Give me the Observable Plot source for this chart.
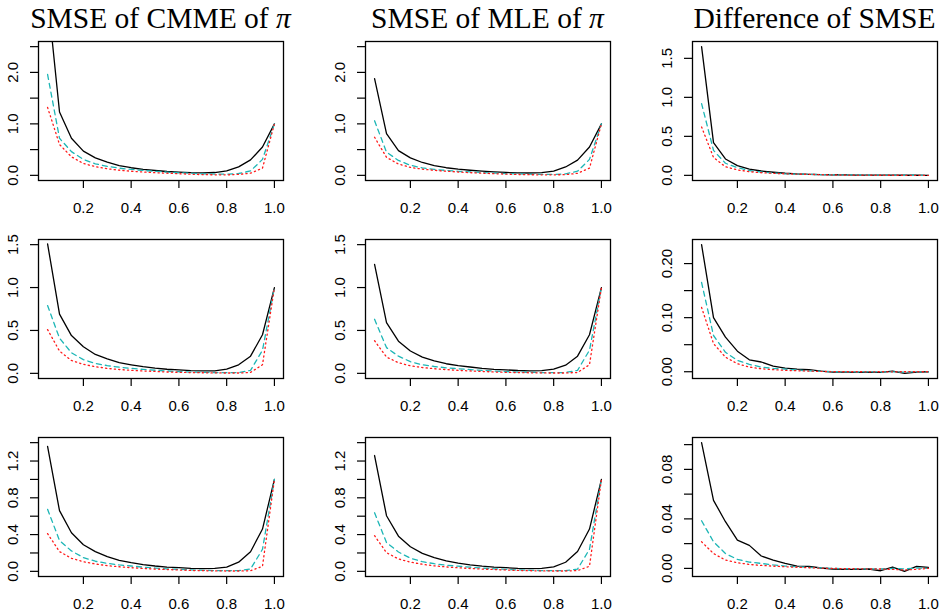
<!DOCTYPE html>
<html>
<head>
<meta charset="utf-8">
<script src="https://cdn.jsdelivr.net/npm/d3@7"></script>
<script src="https://cdn.jsdelivr.net/npm/@observablehq/plot@0.6"></script>
<style>
  html, body { margin: 0; padding: 0; background: #fff; }
  #wrap { position: relative; width: 946px; height: 612px; overflow: hidden; background: #fff; }
  .cell { position: absolute; }
  .title { position: absolute; font-family: "Liberation Serif", "Times New Roman", serif; font-size: 29.5px; line-height: 29.5px; text-align: center; white-space: nowrap; color: #000; }
</style>
</head>
<body>
<div id="wrap"></div>
<script>
// ---------- data ----------
const xs = [0.05,0.10,0.15,0.20,0.25,0.30,0.35,0.40,0.45,0.50,0.55,0.60,0.65,0.70,0.75,0.80,0.85,0.90,0.95,1.00];

const titles = ["SMSE of CMME of ", "SMSE of MLE of ", "Difference of SMSE"];
const titleSymbols = ["π", "π", ""];

const xTicks = [0.2, 0.4, 0.6, 0.8, 1.0];

// Row 1
const cmme1Black = [3.50,1.23,0.72,0.47,0.34,0.255,0.19,0.148,0.117,0.094,0.075,0.063,0.053,0.050,0.055,0.085,0.165,0.30,0.55,1.0];
const cmme1Cyan  = [1.96,0.72,0.46,0.31,0.225,0.175,0.14,0.115,0.095,0.078,0.063,0.050,0.040,0.030,0.025,0.024,0.036,0.085,0.31,1.0];
const cmme1Red   = [1.32,0.60,0.36,0.23,0.17,0.128,0.10,0.080,0.065,0.052,0.042,0.032,0.022,0.014,0.011,0.010,0.018,0.042,0.14,1.0];
const mle1Black  = [1.88,0.81,0.48,0.34,0.25,0.19,0.148,0.12,0.099,0.081,0.066,0.056,0.049,0.046,0.052,0.083,0.163,0.295,0.55,1.0];
const mle1Cyan   = [1.06,0.45,0.29,0.195,0.145,0.115,0.095,0.079,0.066,0.055,0.045,0.035,0.028,0.022,0.018,0.018,0.030,0.080,0.31,1.0];
const mle1Red    = [0.74,0.35,0.22,0.155,0.12,0.098,0.080,0.065,0.052,0.042,0.032,0.024,0.017,0.012,0.010,0.010,0.013,0.040,0.14,1.0];
const diff1Black = [1.65,0.42,0.21,0.125,0.080,0.056,0.040,0.027,0.018,0.013,0.010,0.008,0.005,0.004,0.003,0.002,0.002,0.001,0.001,0];
const diff1Cyan  = [0.92,0.32,0.155,0.100,0.062,0.043,0.030,0.020,0.016,0.013,0.010,0.008,0.006,0.005,0.004,0.003,0.002,0.001,0.001,0];
const diff1Red   = [0.62,0.23,0.110,0.070,0.047,0.034,0.026,0.020,0.016,0.013,0.009,0.006,0.004,0.003,0.002,0.001,0.001,0.001,0,0];

// Row 2
const cmme2Black = [1.51,0.69,0.44,0.31,0.22,0.17,0.125,0.10,0.078,0.060,0.048,0.040,0.032,0.028,0.030,0.050,0.10,0.20,0.45,1.0];
const cmme2Cyan  = [0.79,0.41,0.24,0.16,0.116,0.090,0.072,0.058,0.046,0.036,0.028,0.020,0.015,0.012,0.009,0.008,0.009,0.035,0.27,1.0];
const cmme2Red   = [0.51,0.26,0.15,0.105,0.078,0.058,0.045,0.035,0.028,0.022,0.016,0.012,0.009,0.007,0.005,0.004,0.004,0.011,0.10,1.0];
const mle2Black  = [1.27,0.59,0.375,0.26,0.19,0.145,0.112,0.090,0.074,0.058,0.047,0.040,0.033,0.030,0.031,0.049,0.095,0.20,0.45,1.0];
const mle2Cyan   = [0.63,0.30,0.20,0.136,0.10,0.080,0.065,0.054,0.044,0.035,0.027,0.020,0.015,0.012,0.009,0.008,0.010,0.035,0.27,1.0];
const mle2Red    = [0.38,0.19,0.124,0.088,0.068,0.054,0.044,0.035,0.028,0.022,0.016,0.012,0.009,0.007,0.005,0.004,0.004,0.010,0.10,1.0];
const diff2Black = [0.235,0.100,0.064,0.038,0.022,0.018,0.0105,0.0068,0.005,0.0037,0.0012,-0.0006,-0.0006,-0.0012,-0.0006,-0.0012,0.0012,-0.003,-0.0006,0];
const diff2Cyan  = [0.165,0.067,0.036,0.021,0.0135,0.0086,0.006,0.0049,0.003,0.0018,0.0008,0,-0.0003,-0.0005,-0.0003,-0.0005,-0.0003,-0.0006,-0.0003,0];
const diff2Red   = [0.119,0.052,0.027,0.0147,0.0086,0.0055,0.0038,0.0025,0.0018,0.0012,0.0006,0.0002,0,0,-0.0002,0,-0.0002,0,0,0];

// Row 3
const cmme3Black = [1.36,0.66,0.42,0.29,0.214,0.16,0.12,0.094,0.073,0.058,0.047,0.040,0.033,0.029,0.033,0.047,0.10,0.214,0.46,1.0];
const cmme3Cyan  = [0.675,0.335,0.222,0.15,0.11,0.087,0.070,0.058,0.046,0.036,0.028,0.022,0.016,0.011,0.008,0.007,0.007,0.025,0.24,1.0];
const cmme3Red   = [0.41,0.215,0.142,0.105,0.080,0.062,0.050,0.040,0.032,0.025,0.020,0.015,0.010,0.007,0.005,0.004,0.004,0.007,0.055,1.0];
const mle3Black  = [1.26,0.605,0.383,0.267,0.195,0.15,0.113,0.090,0.071,0.056,0.046,0.040,0.033,0.030,0.033,0.049,0.099,0.216,0.46,1.0];
const mle3Cyan   = [0.637,0.313,0.21,0.143,0.105,0.083,0.067,0.056,0.045,0.035,0.028,0.022,0.016,0.011,0.008,0.007,0.007,0.025,0.24,1.0];
const mle3Red    = [0.388,0.203,0.135,0.10,0.077,0.060,0.048,0.039,0.031,0.025,0.020,0.015,0.010,0.007,0.005,0.004,0.004,0.008,0.055,1.0];
const diff3Black = [0.1016,0.055,0.0377,0.0229,0.0186,0.010,0.0067,0.004,0.0019,0.0016,0.0003,-0.0005,-0.0008,-0.0008,-0.0005,-0.0019,0.0011,-0.0024,0.0016,0.0008];
const diff3Cyan  = [0.0385,0.0215,0.012,0.0073,0.0051,0.004,0.0028,0.0019,0.0013,0.0008,0.0004,0,-0.0003,-0.0003,-0.0005,-0.0005,0,-0.0005,0.0003,0];
const diff3Red   = [0.0215,0.012,0.0067,0.0046,0.0032,0.0024,0.0018,0.0013,0.0009,0.0005,0.0002,0,-0.0003,-0.0003,-0.0005,-0.0005,-0.0008,-0.0013,-0.0008,0];

// y ticks (all ticks) and labelled ticks per panel type
const yTicksRow1 = [0, 0.5, 1.0, 1.5, 2.0, 2.5];
const yLabelsRow1 = [0, 1.0, 2.0];
const yTicksRow2 = [0, 0.5, 1.0, 1.5];
const yLabelsRow2 = [0, 0.5, 1.0, 1.5];
const yTicksRow3 = [0, 0.2, 0.4, 0.6, 0.8, 1.0, 1.2, 1.4];
const yLabelsRow3 = [0, 0.4, 0.8, 1.2];
const yTicksDiff1 = [0, 0.5, 1.0, 1.5];
const yLabelsDiff1 = [0, 0.5, 1.0, 1.5];
const yTicksDiff2 = [0, 0.05, 0.10, 0.15, 0.20];
const yLabelsDiff2 = [0, 0.10, 0.20];
const yTicksDiff3 = [0, 0.02, 0.04, 0.06, 0.08, 0.10];
const yLabelsDiff3 = [0, 0.04, 0.08];

const ylims = [2.5, 1.5, 1.4]; // rows, CMME & MLE panels

// ---------- layout ----------
const colLeft = [38, 365, 692];
const rowTop = [41, 239, 437];
const boxW = 245, boxH = 139;
const mL = 38, mT = 41, mR = 9, mB = 32;

const panels = [
  {r:0,c:0,s:[cmme1Black,cmme1Cyan,cmme1Red],ticks:yTicksRow1,labels:yLabelsRow1,fmt:".1f",lim:ylims[0]},
  {r:0,c:1,s:[mle1Black,mle1Cyan,mle1Red],ticks:yTicksRow1,labels:yLabelsRow1,fmt:".1f",lim:ylims[0]},
  {r:0,c:2,s:[diff1Black,diff1Cyan,diff1Red],ticks:yTicksDiff1,labels:yLabelsDiff1,fmt:".1f"},
  {r:1,c:0,s:[cmme2Black,cmme2Cyan,cmme2Red],ticks:yTicksRow2,labels:yLabelsRow2,fmt:".1f",lim:ylims[1]},
  {r:1,c:1,s:[mle2Black,mle2Cyan,mle2Red],ticks:yTicksRow2,labels:yLabelsRow2,fmt:".1f",lim:ylims[1]},
  {r:1,c:2,s:[diff2Black,diff2Cyan,diff2Red],ticks:yTicksDiff2,labels:yLabelsDiff2,fmt:".2f"},
  {r:2,c:0,s:[cmme3Black,cmme3Cyan,cmme3Red],ticks:yTicksRow3,labels:yLabelsRow3,fmt:".1f",lim:ylims[2]},
  {r:2,c:1,s:[mle3Black,mle3Cyan,mle3Red],ticks:yTicksRow3,labels:yLabelsRow3,fmt:".1f",lim:ylims[2]},
  {r:2,c:2,s:[diff3Black,diff3Cyan,diff3Red],ticks:yTicksDiff3,labels:yLabelsDiff3,fmt:".2f"}
];

const styles = [
  {stroke: "#000000", dash: null},
  {stroke: "#1db6b6", dash: "5,4"},
  {stroke: "#ff1a1a", dash: "1.2,3.2"}
];

const wrap = document.getElementById("wrap");
const xr = xs[xs.length - 1] - xs[0];
const xDomain = [xs[0] - 0.04 * xr, xs[xs.length - 1] + 0.04 * xr];

for (const p of panels) {
  let lo, hi;
  if (p.lim != null) { lo = 0; hi = p.lim; }
  else {
    const all = p.s.flat();
    lo = d3.min(all); hi = d3.max(all);
  }
  const ext = (hi - lo) * 0.04;
  const yDomain = [lo - ext, hi + ext];
  const fmt = d3.format(p.fmt);

  const lineMarks = p.s.map((arr, k) =>
    Plot.line(xs.map((x, i) => ({x, y: arr[i]})), {
      x: "x", y: "y",
      stroke: styles[k].stroke,
      strokeWidth: 1.3,
      strokeDasharray: styles[k].dash,
      clip: true
    })
  );

  const svg = Plot.plot({
    width: mL + boxW + mR,
    height: mT + boxH + mB,
    marginLeft: mL, marginTop: mT, marginRight: mR, marginBottom: mB,
    style: {fontFamily: "'Liberation Sans', Arial, Helvetica, sans-serif", fontSize: "15px", background: "transparent", color: "#000", overflow: "visible"},
    x: {domain: xDomain, axis: null},
    y: {domain: yDomain, axis: null},
    marks: [
      ...lineMarks,
      Plot.axisX({ticks: xTicks, label: null, tickSize: 8, tickPadding: 14, tickFormat: d3.format(".1f"), fontSize: 15, strokeWidth: 1.2}),
      Plot.axisY({ticks: p.ticks, label: null, tickSize: 8, tickFormat: () => "", strokeWidth: 1.2}),
      Plot.text(p.labels, {y: d => d, text: d => fmt(d), frameAnchor: "left", dx: -21, rotate: -90, textAnchor: "middle", lineAnchor: "bottom", fontSize: 15, fill: "#000"}),
      Plot.frame({stroke: "#000", strokeWidth: 1.3})
    ]
  });
  const cell = document.createElement("div");
  cell.className = "cell";
  cell.style.left = (colLeft[p.c] - mL) + "px";
  cell.style.top = (rowTop[p.r] - mT) + "px";
  cell.appendChild(svg);
  wrap.appendChild(cell);
}

// titles
titles.forEach((t, c) => {
  const d = document.createElement("div");
  d.className = "title";
  d.style.left = (colLeft[c] - 40) + "px";
  d.style.width = (boxW + 80) + "px";
  d.style.top = "4px";
  d.appendChild(document.createTextNode(t));
  if (titleSymbols[c]) {
    const i = document.createElement("i");
    i.textContent = titleSymbols[c];
    d.appendChild(i);
  }
  wrap.appendChild(d);
});
</script>
</body>
</html>
